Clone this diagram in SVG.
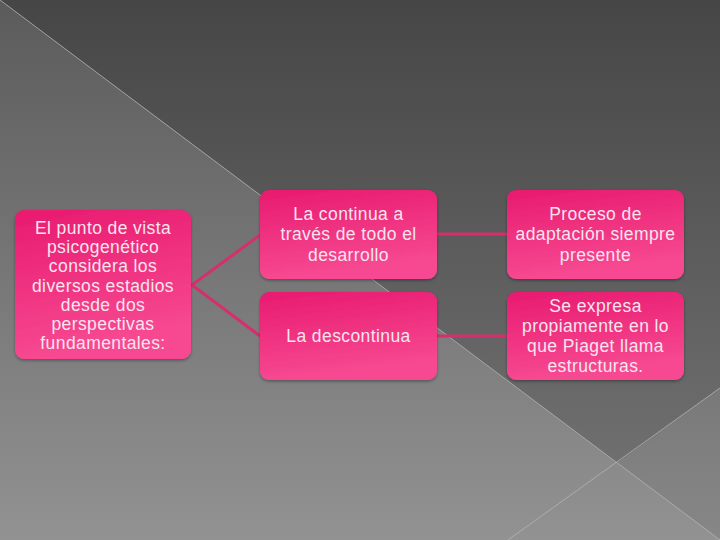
<svg xmlns="http://www.w3.org/2000/svg" width="720" height="540" viewBox="0 0 720 540">
  <defs>
    <linearGradient id="bgLow" x1="0" y1="0" x2="0" y2="1">
      <stop offset="0" stop-color="#5b5b5b"/>
      <stop offset="1" stop-color="#929292"/>
    </linearGradient>
    <linearGradient id="bgHigh" x1="0" y1="0" x2="0" y2="540" gradientUnits="userSpaceOnUse">
      <stop offset="0" stop-color="#464646"/>
      <stop offset="1" stop-color="#767676"/>
    </linearGradient>
    <linearGradient id="pink" x1="0" y1="0" x2="0.25" y2="1">
      <stop offset="0" stop-color="#e81a6f"/>
      <stop offset="1" stop-color="#f74a92"/>
    </linearGradient>
    <filter id="sh" x="-10%" y="-10%" width="120%" height="125%">
      <feDropShadow dx="0" dy="1.5" stdDeviation="1.5" flood-color="#000" flood-opacity="0.35"/>
    </filter>
  </defs>
  <style>
    .box { fill: url(#pink); filter: url(#sh); }
    .t { font-family: "Liberation Sans", Arial, sans-serif; font-size: 17.5px; fill: #f8e4ef; text-anchor: middle; letter-spacing: 0.4px; }
    .conn { stroke: #d62f6d; stroke-width: 3; fill: none; }
    .bgline { stroke: #b4b4b4; stroke-width: 1; fill: none; opacity: 0.8; }
  </style>

  <g id="background">
    <rect x="0" y="0" width="720" height="540" fill="url(#bgLow)"/>
    <polygon points="0,0 720,0 720,388 617,463" fill="url(#bgHigh)"/>
    <polygon points="720,388 617,463 720,540" fill="#000" opacity="0.07"/>
    <line class="bgline" x1="0" y1="0" x2="720" y2="540"/>
    <line class="bgline" x1="508" y1="540" x2="720" y2="388"/>
  </g>

  <g id="connectors">
    <polyline class="conn" points="260,235 192,285 260,336"/>
    <line class="conn" x1="437" y1="234" x2="507" y2="234"/>
    <line class="conn" x1="437" y1="336" x2="507" y2="336"/>
  </g>

  <g id="node-root">
    <rect class="box" x="15" y="210" width="176" height="149" rx="9"/>
    <text class="t" x="103" y="234">El punto de vista</text>
    <text class="t" x="103" y="253">psicogenético</text>
    <text class="t" x="103" y="272">considera los</text>
    <text class="t" x="103" y="292">diversos estadios</text>
    <text class="t" x="103" y="311">desde dos</text>
    <text class="t" x="103" y="330">perspectivas</text>
    <text class="t" x="103" y="349">fundamentales:</text>
  </g>

  <g id="node-continua">
    <rect class="box" x="260" y="190" width="177" height="89" rx="9"/>
    <text class="t" x="348.5" y="220">La continua a</text>
    <text class="t" x="348.5" y="240">través de todo el</text>
    <text class="t" x="348.5" y="261">desarrollo</text>
  </g>

  <g id="node-descontinua">
    <rect class="box" x="260" y="292" width="177" height="88" rx="9"/>
    <text class="t" x="348.5" y="342">La descontinua</text>
  </g>

  <g id="node-proceso">
    <rect class="box" x="507" y="190" width="177" height="89" rx="9"/>
    <text class="t" x="595.5" y="220">Proceso de</text>
    <text class="t" x="595.5" y="240">adaptación siempre</text>
    <text class="t" x="595.5" y="261">presente</text>
  </g>

  <g id="node-expresa">
    <rect class="box" x="507" y="292" width="177" height="88" rx="9"/>
    <text class="t" x="595.5" y="312">Se expresa</text>
    <text class="t" x="595.5" y="332">propiamente en lo</text>
    <text class="t" x="595.5" y="352">que Piaget llama</text>
    <text class="t" x="595.5" y="372">estructuras.</text>
  </g>
</svg>
